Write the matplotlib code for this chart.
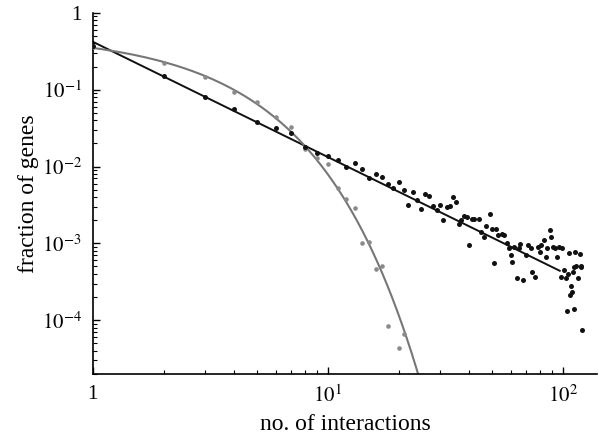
import numpy as np
import matplotlib.pyplot as plt
import matplotlib as mpl
from matplotlib.ticker import LogLocator, FuncFormatter, NullFormatter

mpl.rcParams["font.family"] = "Liberation Serif"
mpl.rcParams["mathtext.fontset"] = "stix"

# black points: observed interaction degree distribution
k_black = [1, 2, 3, 4, 5, 6, 7, 8, 9, 10, 11, 12, 13, 14, 15, 16, 17, 18, 19, 20,
           21, 22, 23, 24, 25, 26, 27, 28, 29, 30, 31, 32, 33, 34, 35, 36, 37, 38, 39, 40,
           41, 42, 44, 45, 46, 47, 49, 50, 51, 52, 53, 55, 56, 58, 59, 60, 61, 62, 64, 65,
           66, 68, 70, 71, 73, 74, 76, 78, 80, 81, 83, 85, 86, 88, 89, 91, 93, 94, 96, 98,
           99, 101, 103, 104, 105, 106, 107, 108, 109, 110, 111, 112, 113, 114, 116, 118, 119, 120, 121]
p_black = [0.375, 0.151, 0.081, 0.0557, 0.038, 0.0315, 0.027, 0.018, 0.0151, 0.0138,
           0.0123, 0.0098, 0.0112, 0.0092, 0.0070, 0.0080, 0.0072, 0.0059, 0.0052, 0.0063,
           0.0050, 0.0032, 0.0047, 0.0037, 0.0028, 0.0044, 0.0041, 0.0031, 0.0027, 0.0032,
           0.0020, 0.0030, 0.0031, 0.0040, 0.0035, 0.00177, 0.0020, 0.0023, 0.0022, 0.00096,
           0.0021, 0.0021, 0.0021, 0.0014, 0.0012, 0.0017, 0.0024, 0.00156, 0.00056, 0.00156,
           0.00128, 0.00133, 0.0013, 0.00101, 0.00086, 0.00071, 0.00058, 0.0009, 0.00035, 0.00086,
           0.00099, 0.00033, 0.00071, 0.00095, 0.00086, 0.00042, 0.00037, 0.0009, 0.00078, 0.00095,
           0.0011, 0.00066, 0.00086, 0.0015, 0.0012, 0.0009, 0.00086, 0.00066, 0.0009, 0.00036,
           0.00086, 0.00045, 0.00035, 0.00013, 0.0004, 0.00075, 0.00021, 0.00028, 0.00023, 0.00042,
           0.00014, 0.00049, 0.00078, 0.00051, 0.00035, 0.00072, 0.00049, 0.00051, 0.000074]

# grey points: randomised network
k_grey = [1, 2, 3, 4, 5, 6, 7, 8, 9, 10, 11, 12, 13, 14, 15, 16, 17, 18, 20, 21]
p_grey = [0.36, 0.22, 0.146, 0.093, 0.069, 0.044, 0.033, 0.017, 0.013, 0.0107,
          0.0053, 0.0038, 0.0029, 0.00101, 0.00103, 0.00046, 0.0005, 0.000085, 0.000044, 0.000066]

# fitted curves
pow_amp, pow_exp, pow_kmax = 0.42, -1.5, 97.0
exp_amp, exp_rate = 0.533, 0.421

fig, ax = plt.subplots(figsize=(5.99, 4.43), dpi=100, facecolor="w")
fig.subplots_adjust(left=0.155, right=0.997, bottom=0.156, top=0.971)

kk = np.logspace(0, np.log10(pow_kmax), 200)
ax.plot(kk, pow_amp * kk ** pow_exp, color="#111111", lw=1.4, zorder=2)
kg = np.linspace(1, 30, 300)
ax.plot(kg, exp_amp * np.exp(-exp_rate * kg), color="#777777", lw=1.5, zorder=2)

ax.plot(k_grey, p_grey, "o", ms=3.3, color="#8a8a8a", mec="none", zorder=3)
ax.plot(k_black, p_black, "o", ms=3.6, color="#111111", mec="none", zorder=4)

ax.set_xscale("log")
ax.set_yscale("log")
ax.set_xlim(1, 140)
ax.set_ylim(2e-5, 1)

def fmt_pow(v, pos):
    e = int(round(np.log10(v)))
    return "1" if e == 0 else r"$10^{%d}$" % e

ax.xaxis.set_major_locator(LogLocator(base=10, numticks=10))
ax.yaxis.set_major_locator(LogLocator(base=10, numticks=10))
ax.xaxis.set_minor_locator(LogLocator(base=10, subs=np.arange(2, 10), numticks=10))
ax.yaxis.set_minor_locator(LogLocator(base=10, subs=np.arange(2, 10), numticks=10))
ax.xaxis.set_major_formatter(FuncFormatter(fmt_pow))
ax.yaxis.set_major_formatter(FuncFormatter(fmt_pow))
ax.xaxis.set_minor_formatter(NullFormatter())
ax.yaxis.set_minor_formatter(NullFormatter())

ax.tick_params(which="major", direction="in", length=5, width=1, labelsize=15, pad=8)
ax.tick_params(which="minor", direction="in", length=3, width=0.8)
ax.spines["top"].set_visible(False)
ax.spines["right"].set_visible(False)
ax.spines["left"].set_linewidth(1.2)
ax.spines["bottom"].set_linewidth(1.2)

ax.set_xlabel("no. of interactions", fontsize=17, labelpad=5)
ax.set_ylabel("fraction of genes", fontsize=17, labelpad=2)

fig.savefig("out.png", dpi=100)
